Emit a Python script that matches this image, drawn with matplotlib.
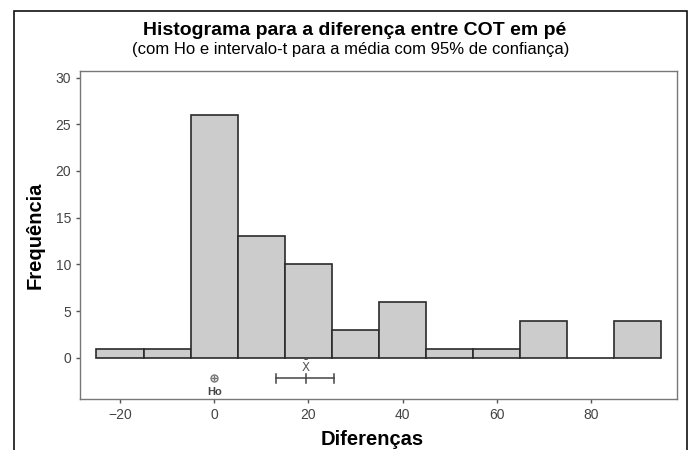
import matplotlib
matplotlib.use("Agg")
import matplotlib.pyplot as plt
from matplotlib.patches import Rectangle
import numpy as np

# histogram of the differences (bin centres and counts)
bin_centers = [-20, -10, 0, 10, 20, 30, 40, 50, 60, 70, 80, 90]
counts = [1, 1, 26, 13, 10, 3, 6, 1, 1, 4, 0, 4]
bin_width = 10

# hypothesised mean and 95% t-interval for the mean
h0_value = 0
mean_value = 19.4
ci_low, ci_high = 13.2, 25.4

x_ticks = [-20, 0, 20, 40, 60, 80]
y_ticks = [0, 5, 10, 15, 20, 25, 30]

title = "Histograma para a diferença entre COT em pé"
subtitle = "(com Ho e intervalo-t para a média com 95% de confiança)"

plt.rcParams['font.family'] = ['Liberation Sans', 'DejaVu Sans']

fig = plt.figure(figsize=(6.94, 4.5), dpi=100)
ax = fig.add_axes([80 / 694, 1 - 399 / 450, (677 - 80) / 694, (399 - 71) / 450])

ax.bar(bin_centers, counts, width=bin_width, color="#cccccc",
       edgecolor="#2a2a2a", linewidth=1.2, zorder=2)

# Ho marker
ax.plot(h0_value, -2.2, marker="o", ms=5, mfc="none", mec="#777777", mew=1, zorder=3)
ax.plot(h0_value, -2.2, marker="+", ms=5, mec="#777777", mew=1, zorder=3)
ax.text(h0_value, -3.6, "Ho", ha="center", va="center", fontsize=8,
        color="#444444", fontweight="bold")

# t-interval for the mean
y_ci = -2.2
ax.plot([ci_low, ci_high], [y_ci, y_ci], color="#444444", lw=1.1, zorder=3)
for xv in (ci_low, mean_value, ci_high):
    ax.plot([xv, xv], [y_ci - 0.45, y_ci + 0.45], color="#444444", lw=1.1, zorder=3)
ax.text(mean_value, -1.05, r"$\bar{\mathrm{X}}$", ha="center", va="center",
        fontsize=8.5, color="#555555")

ax.set_xlim(-28.5, 98.3)
ax.set_ylim(-4.4, 30.7)
ax.set_xticks(x_ticks)
ax.set_yticks(y_ticks)
ax.tick_params(axis="both", direction="out", length=3, width=1, color="#555555",
               labelcolor="#444444", labelsize=10)
for side in ["left", "right", "top", "bottom"]:
    ax.spines[side].set_color("#777777")
    ax.spines[side].set_linewidth(1)

# axis labels and titles placed in figure pixels
fig.text(372 / 694, 1 - 445 / 450, "Diferenças", ha="center", va="baseline",
         fontsize=14.5, fontweight="bold")
fig.text(35 / 694, 1 - 235 / 450, "Frequência", ha="center", va="center",
         rotation=90, fontsize=14.5, fontweight="bold")
fig.text(0.5 + 8 / 694, 1 - 35 / 450, title, ha="center", va="baseline",
         fontsize=14, fontweight="bold")
fig.text(0.5 + 4 / 694, 1 - 54 / 450, subtitle, ha="center", va="baseline",
         fontsize=12)

# outer frame
frame = Rectangle((14 / 694, -0.05), (687 - 14) / 694, 1 - 11 / 450 + 0.05,
                  transform=fig.transFigure, fill=False, edgecolor="#111111",
                  linewidth=1.2, clip_on=False)
fig.add_artist(frame)

fig.savefig("out.png", dpi=100)
